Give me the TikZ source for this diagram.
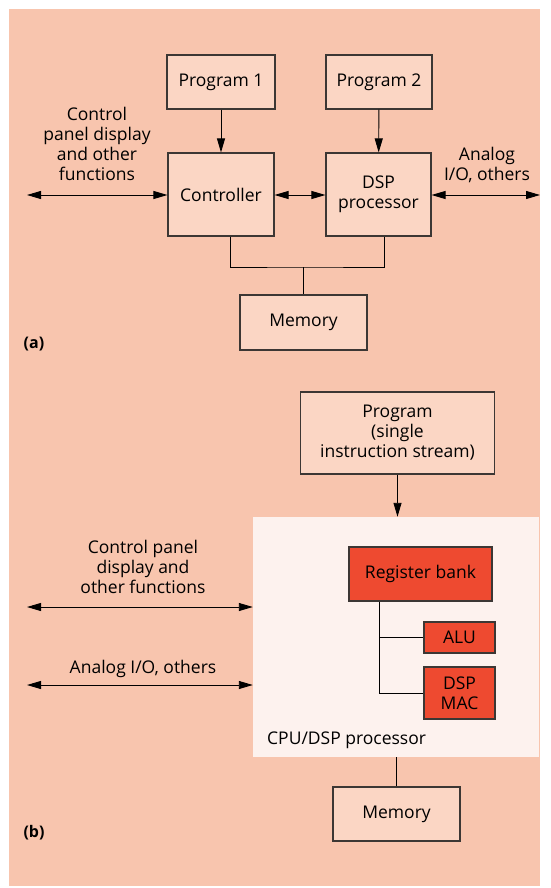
\documentclass[tikz,border=0pt]{standalone}
\usepackage{fontspec}
\setmainfont{Open Sans}
\usetikzlibrary{arrows.meta,calc}

\definecolor{bgpink}{RGB}{248,197,174}
\definecolor{boxpink}{RGB}{251,214,196}
\definecolor{cpuwhite}{RGB}{253,242,238}
\definecolor{regred}{RGB}{238,74,48}
\definecolor{edgegray}{RGB}{60,55,52}

\tikzset{
  blk/.style={draw=edgegray,line width=1.1pt,fill=boxpink,inner sep=0pt,align=center},
  redblk/.style={blk,fill=regred},
  lbl/.style={align=center,inner sep=0pt},
  wire/.style={line width=0.9pt,black},
}

\begin{document}
\begin{tikzpicture}[x=1pt,y=-1pt,>={Triangle[length=14pt,width=8pt]},
    font=\fontsize{17.5}{20}\selectfont]
		\useasboundingbox (0,0) rectangle (550,888);
		% background
		\fill[bgpink] (9,9) rectangle (540,886);
		% ---------- (a) ----------
		\node[blk,minimum width=108pt,minimum height=54pt] (prog1) at (221,82) {Program 1};
		\node[blk,minimum width=106pt,minimum height=54pt] (prog2) at (379,82) {Program 2};
		\node[blk,minimum width=106pt,minimum height=83pt] (ctrl) at (221,194.5) {Controller};
		\node[blk,minimum width=105pt,minimum height=83pt] (dsp) at (378.5,194.5) {DSP\\processor};
		\node[blk,minimum width=127pt,minimum height=55pt] (mema) at (303.5,322.5) {Memory};
		% labels of outside links
		\node[lbl] (ctrltxt) at (97,144) {Control\\panel display\\and other\\functions};
		\node[lbl] (anatxt) at (487,165) {Analog\\I/O, others};
		\node[lbl,font=\fontsize{16}{20}\selectfont\bfseries] (tagA) at (34,344) {(a)};
		% free ends
		\coordinate (ctrlend) at (27,195);
		\coordinate (anaend) at (540,195);
		\coordinate (busA) at (303,267);
		% arrows
		\draw[wire,->] (prog1) -- (ctrl);
		\draw[wire,->] (prog2) -- (dsp);
		\draw[wire,<->] (ctrlend) -- (ctrl.west |- ctrlend);
		\draw[wire,<->] (ctrl.east |- ctrlend) -- (dsp.west |- ctrlend);
		\draw[wire,<->] (dsp.east |- anaend) -- (anaend);
		% memory bus
		\draw[wire] ([xshift=9pt]ctrl.south) |- (busA) -| ([xshift=6pt]dsp.south);
		\draw[wire] (busA) -- (busA |- mema.north);
		% ---------- (b) ----------
		\node[blk,minimum width=194pt,minimum height=82pt] (prog) at (397.5,433) {Program\\(single\\instruction stream)};
		\node[fill=cpuwhite,minimum width=286pt,minimum height=240pt,inner sep=0pt] (cpu) at (396,637) {};
		\node[redblk,minimum width=143pt,minimum height=54pt] (regbank) at (420.5,574) {Register bank};
		\node[redblk,minimum width=71pt,minimum height=31pt] (alu) at (459.5,637.5) {ALU};
		\node[redblk,minimum width=71pt,minimum height=52pt] (mac) at (459.5,693) {DSP\\MAC};
		\node[lbl,anchor=west] (cputxt) at (267,740) {CPU/DSP processor};
		\node[blk,minimum width=127pt,minimum height=54pt] (memb) at (396.5,814) {Memory};
		\node[lbl] (paneltxt) at (143,567) {Control panel\\display and\\other functions};
		\node[lbl] (iotxt) at (143,669) {Analog I/O, others};
		\node[lbl,font=\fontsize{16}{20}\selectfont\bfseries] (tagB) at (34,833) {(b)};
		% free ends
		\coordinate (panelend) at (27,607);
		\coordinate (ioend) at (27,685);
		\coordinate (spine) at (379,0);
		% links
		\draw[wire,->] (prog) -- (prog.south |- cpu.north);
		\draw[wire,<->] (panelend) -- (cpu.west |- panelend);
		\draw[wire,<->] (ioend) -- (cpu.west |- ioend);
		\draw[wire] (spine |- regbank.south) |- (mac.west);
		\draw[wire] (spine |- alu.west) -- (alu.west);
		\draw[wire] (cpu.south -| memb.north) -- (memb.north);
	\end{tikzpicture}
\end{document}
